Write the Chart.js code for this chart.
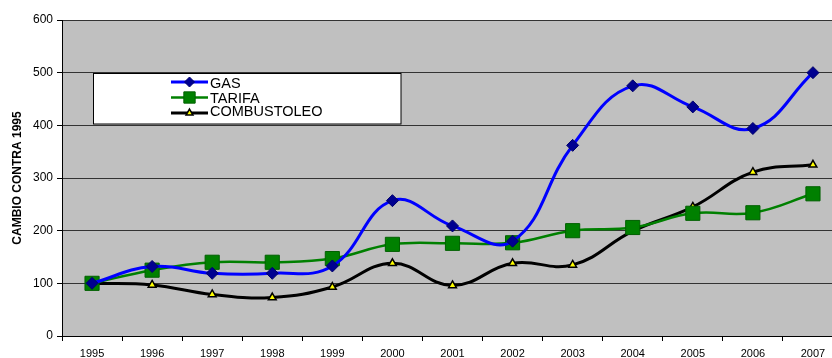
<!DOCTYPE html>
<html>
<head>
<meta charset="utf-8">
<script src="https://cdn.jsdelivr.net/npm/chart.js@4/dist/chart.umd.min.js"></script>
<style>
  html, body { margin: 0; padding: 0; background: #fff; overflow: hidden; }
  #wrap { width: 832px; height: 358px; overflow: hidden; }
  canvas { display: block; }
</style>
</head>
<body>
<div id="wrap"><canvas id="chart" width="843" height="358"></canvas></div>
<script>
// datos (indice 1995 = 100)
const years = ["1995", "1996", "1997", "1998", "1999", "2000", "2001", "2002", "2003", "2004", "2005", "2006", "2007"];
const gas = [100, 132, 119, 119, 133, 257, 209, 180, 362, 475, 435, 394, 500];
const tarifa = [100, 125, 140, 140, 147, 174, 176, 177, 200, 206, 233, 234, 270];
const combustoleo = [100, 97, 79, 73, 93, 138, 96, 138, 135, 199, 245, 311, 325];

const FONT = "'Liberation Sans', Arial, sans-serif";

// fondo gris del area de trazado
const plotBg = {
    id: "plotBg",
    beforeDraw(chart) {
        const { ctx, chartArea: a } = chart;
        ctx.save();
        ctx.fillStyle = "#c0c0c0";
        ctx.fillRect(a.left, a.top, a.right - a.left, a.bottom - a.top);
        ctx.restore();
    },
};

// leyenda en recuadro blanco, como en el original
const boxLegend = {
    id: "boxLegend",
    beforeDatasetsDraw(chart) {
        const ctx = chart.ctx;
        const lineY = [82, 97.5, 113];
        const textY = [83, 97.5, 111];
        ctx.save();
        ctx.fillStyle = "#fff";
        ctx.strokeStyle = "#000";
        ctx.lineWidth = 1;
        ctx.fillRect(93.5, 73.5, 307.5, 50.5);
        ctx.strokeRect(93.5, 73.5, 307.5, 50.5);
        ctx.font = "14.5px " + FONT;
        ctx.textBaseline = "middle";
        chart.data.datasets.forEach((ds, i) => {
            const y = lineY[i];
            ctx.strokeStyle = ds.borderColor;
            ctx.lineWidth = ds.borderWidth;
            ctx.beginPath();
            ctx.moveTo(171, y);
            ctx.lineTo(208, y);
            ctx.stroke();
            ctx.fillStyle = ds.pointBackgroundColor;
            ctx.strokeStyle = ds.pointBorderColor;
            ctx.lineWidth = ds.pointBorderWidth;
            Chart.helpers.drawPoint(ctx, {
                pointStyle: ds.pointStyle,
                radius: ds.legendRadius,
                rotation: 0,
                borderWidth: ds.pointBorderWidth,
            }, 189.5, y);
            ctx.fillStyle = "#000";
            ctx.fillText(ds.label, 210, textY[i] + 1);
        });
        ctx.restore();
    },
};

new Chart(document.getElementById("chart"), {
    type: "line",
    data: {
        labels: years,
        datasets: [
            {
                label: "GAS",
                data: gas,
                borderColor: "#0000ff",
                borderWidth: 3,
                pointStyle: "rectRot",
                pointRadius: 6,
                legendRadius: 5,
                pointBackgroundColor: "#000090",
                pointBorderColor: "#00006a",
                pointBorderWidth: 1,
                tension: 0.42,
                clip: false,
            },
            {
                label: "TARIFA",
                data: tarifa,
                borderColor: "#008000",
                borderWidth: 2.5,
                pointStyle: "rect",
                pointRadius: 10,
                legendRadius: 8,
                pointBackgroundColor: "#008000",
                pointBorderColor: "#006000",
                pointBorderWidth: 1,
                tension: 0.42,
                clip: false,
            },
            {
                label: "COMBUSTOLEO",
                data: combustoleo,
                borderColor: "#000000",
                borderWidth: 3,
                pointStyle: "triangle",
                pointRadius: 4.5,
                legendRadius: 4,
                pointBackgroundColor: "#ffff00",
                pointBorderColor: "#000000",
                pointBorderWidth: 1.5,
                tension: 0.42,
                clip: false,
            },
        ],
    },
    options: {
        responsive: false,
        animation: false,
        layout: {
            autoPadding: false,
            padding: { top: 20, right: 0, left: 0, bottom: 0 },
        },
        plugins: {
            legend: { display: false },
            tooltip: { enabled: false },
        },
        scales: {
            x: {
                type: "category",
                offset: true,
                grid: {
                    offset: true,
                    drawOnChartArea: false,
                    tickLength: 5,
                    tickColor: "#000",
                },
                border: { color: "#000", width: 1 },
                ticks: {
                    color: "#000",
                    font: { family: FONT, size: 11 },
                    maxRotation: 0,
                    autoSkip: false,
                    padding: 6,
                },
                afterFit(scale) {
                    scale.height = 22;
                    scale.paddingLeft = 0;
                    scale.paddingRight = 0;
                },
            },
            y: {
                min: 0,
                max: 600,
                ticks: {
                    stepSize: 100,
                    color: "#000",
                    font: { family: FONT, size: 12 },
                    padding: 4,
                },
                grid: {
                    color: "#333",
                    tickColor: "#000",
                    tickLength: 5,
                    lineWidth: 1,
                },
                border: { color: "#000", width: 1 },
                title: {
                    display: true,
                    text: "CAMBIO CONTRA 1995",
                    color: "#000",
                    font: { family: FONT, size: 12, weight: "bold" },
                    padding: { top: 10, bottom: 0 },
                },
                afterFit(scale) { scale.width = 62; },
            },
        },
    },
    plugins: [plotBg, boxLegend],
});
</script>
</body>
</html>
